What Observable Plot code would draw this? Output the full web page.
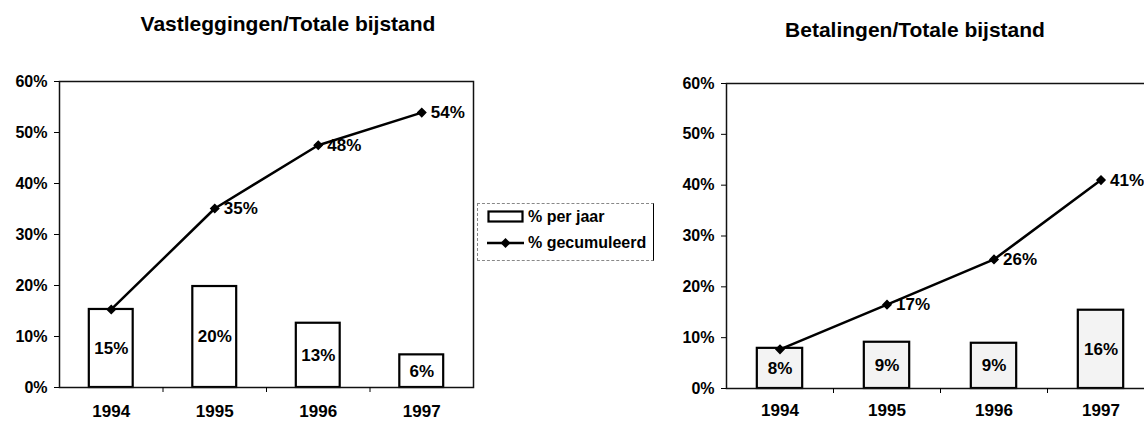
<!DOCTYPE html>
<html>
<head>
<meta charset="utf-8">
<script src="https://cdn.jsdelivr.net/npm/d3@7"></script>
<script src="https://cdn.jsdelivr.net/npm/@observablehq/plot@0.6"></script>
<style>
  html, body { margin: 0; padding: 0; background: #fff; }
  #wrap { position: relative; width: 1144px; height: 421px; overflow: hidden; font-family: "Liberation Sans", Arial, sans-serif; font-weight: bold; color: #000; }
  .title { position: absolute; width: 400px; text-align: center; font-size: 21px; font-weight: bold; line-height: 22px; }
  .chart { position: absolute; top: 48px; }
  .chart svg { max-width: none !important; }
  #legend { position: absolute; left: 477px; top: 203px; width: 177px; height: 58px; border: 1px dashed #888; border-right: 1.5px solid #000; box-sizing: border-box; font-size: 16px; }
  .litem { position: absolute; left: 9px; display: flex; align-items: center; white-space: nowrap; }
  .litem svg { margin-right: 4px; }
</style>
</head>
<body>
<div id="wrap">
  <div class="title" style="left:88px; top:13px;">Vastleggingen/Totale bijstand</div>
  <div class="title" style="left:715px; top:19px;">Betalingen/Totale bijstand</div>
  <div id="left" class="chart" style="left:0px; width:478px;"></div>
  <div id="right" class="chart" style="left:640px; width:520px;"></div>
  <div id="legend">
    <div class="litem" style="top:4px;"><svg width="37" height="14"><rect x="1.5" y="1.5" width="34" height="10" fill="#fff" stroke="#000" stroke-width="2.2"/></svg><span>% per jaar</span></div>
    <div class="litem" style="top:30px;"><svg width="37" height="14"><line x1="0" y1="7" x2="37" y2="7" stroke="#000" stroke-width="2.5"/><path d="M18.5,2 L23.5,7 L18.5,12 L13.5,7 Z" fill="#000"/></svg><span>% gecumuleerd</span></div>
  </div>
</div>
<script>
// ---- data ----
const years = [1994, 1995, 1996, 1997];
const yTicks = [0, 10, 20, 30, 40, 50, 60];

const vastPerJaar = [15.3, 19.8, 12.6, 6.4];
const vastCum = [15.3, 35.1, 47.5, 53.9];
const vastBarLabels = ["15%", "20%", "13%", "6%"];
const vastCumLabels = ["", "35%", "48%", "54%"];

const betPerJaar = [7.9, 9.1, 8.9, 15.4];
const betCum = [7.7, 16.5, 25.4, 41.0];
const betBarLabels = ["8%", "9%", "9%", "16%"];
const betCumLabels = ["", "17%", "26%", "41%"];

const boundaries = years.slice(1).map(y => y - 0.5);

function makeChart({perJaar, cum, barLabels, cumLabels, width, height, margins, barFill, yearPad}) {
  const rows = years.map((year, i) => ({
    year, per: perJaar[i], cum: cum[i], barLabel: barLabels[i], cumLabel: cumLabels[i]
  }));
  return Plot.plot({
    width, height,
    marginLeft: margins[0], marginRight: margins[1], marginTop: margins[2], marginBottom: margins[3],
    style: {fontFamily: '"Liberation Sans", Arial, sans-serif', fontSize: "16px", fontWeight: "bold", color: "#000", background: "transparent", overflow: "visible", maxWidth: "none"},
    x: {domain: [years[0] - 0.5, years[years.length - 1] + 0.5]},
    y: {domain: [0, 60]},
    marks: [
      Plot.rectY(rows, {x1: d => d.year - 0.212, x2: d => d.year + 0.212, y: "per", fill: barFill, stroke: "#000", strokeWidth: 2.2}),
      Plot.frame({stroke: "#111", strokeWidth: 1.5}),
      Plot.axisY({ticks: yTicks, tickFormat: d => d + "%", tickSize: 5, tickPadding: 7, label: null, fontSize: 16}),
      Plot.axisX({ticks: boundaries, tickFormat: () => "", tickSize: 5, label: null}),
      Plot.axisX({ticks: years, tickFormat: d => String(d), tickSize: 0, tickPadding: yearPad, label: null, fontSize: 17}),
      Plot.line(rows, {x: "year", y: "cum", stroke: "#000", strokeWidth: 2.5}),
      Plot.dot(rows, {x: "year", y: "cum", symbol: "diamond2", r: 3.6, fill: "#000", stroke: "#000"}),
      Plot.text(rows, {x: "year", y: d => d.per / 2, text: "barLabel", fontSize: 17, fontWeight: "bold", fill: "#000"}),
      Plot.text(rows, {x: "year", y: "cum", text: "cumLabel", textAnchor: "start", dx: 9, fontSize: 17, fontWeight: "bold", fill: "#000"})
    ]
  });
}

document.getElementById("left").appendChild(makeChart({
  perJaar: vastPerJaar, cum: vastCum, barLabels: vastBarLabels, cumLabels: vastCumLabels,
  width: 478, height: 373, margins: [59, 5, 33, 34], barFill: "#fff", yearPad: 17
}));
document.getElementById("right").appendChild(makeChart({
  perJaar: betPerJaar, cum: betCum, barLabels: betBarLabels, cumLabels: betCumLabels,
  width: 520, height: 373, margins: [86, 6, 35, 33], barFill: "#f3f3f3", yearPad: 15
}));
</script>
</body>
</html>
